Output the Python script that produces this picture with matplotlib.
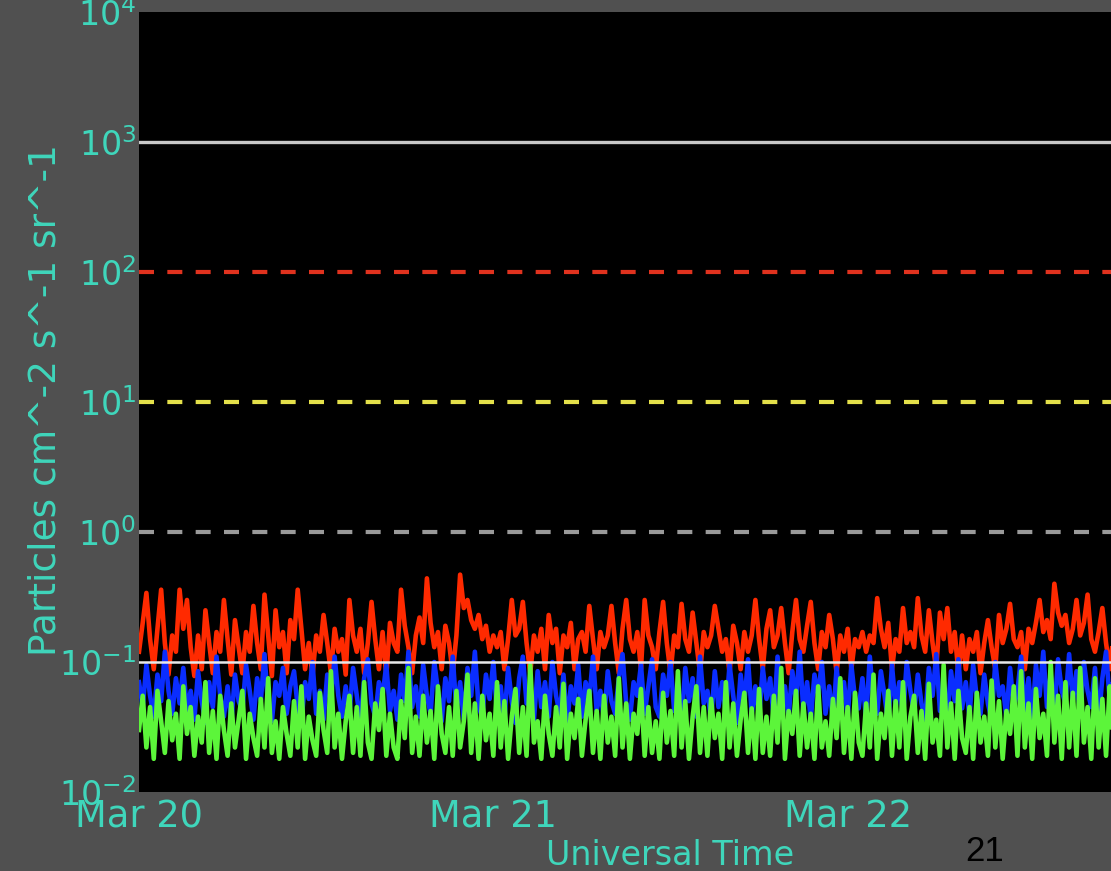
import numpy as np
import matplotlib
matplotlib.use("Agg")
import matplotlib.pyplot as plt
import matplotlib.dates as mdates
from matplotlib.ticker import LogLocator, LogFormatterMathtext, NullLocator
from datetime import datetime, timedelta

# Proton flux, 15-minute samples starting 2015-03-20 00:00 UT
# (units: 1e-3 particles cm^-2 s^-1 sr^-1)
flux_high_milli = [
    120, 200, 340, 150, 88, 180, 360, 140, 80, 160, 120, 360, 180, 300,
    130, 78, 160, 88, 250, 140, 82, 170, 120, 300, 150, 80, 210, 130,
    82, 170, 120, 270, 140, 88, 330, 160, 78, 250, 130, 170, 82, 210,
    150, 360, 180, 88, 140, 78, 160, 120, 230, 140, 82, 180, 120, 150,
    80, 300, 160, 120, 180, 82, 140, 290, 150, 88, 170, 78, 200, 140,
    120, 360, 190, 130, 82, 160, 220, 140, 440, 200, 130, 170, 88, 190,
    140, 82, 160, 470, 260, 300, 210, 180, 230, 150, 190, 120, 160, 130,
    170, 88, 150, 300, 160, 180, 290, 140, 82, 160, 120, 180, 88, 230,
    140, 180, 82, 160, 130, 200, 88, 150, 170, 120, 270, 150, 88, 170,
    130, 160, 270, 140, 82, 180, 300, 150, 120, 170, 88, 300, 160, 130,
    88, 170, 290, 140, 82, 160, 130, 280, 150, 120, 240, 140, 82, 170,
    130, 160, 270, 180, 120, 150, 82, 190, 140, 88, 170, 120, 160, 300,
    150, 88, 180, 250, 130, 160, 260, 140, 82, 170, 300, 150, 120, 190,
    290, 140, 88, 170, 130, 230, 150, 82, 160, 120, 180, 88, 150, 130,
    170, 120, 160, 140, 310, 180, 130, 200, 88, 150, 120, 260, 140, 170,
    130, 310, 160, 120, 250, 140, 88, 240, 150, 260, 120, 170, 82, 160,
    88, 150, 120, 170, 82, 140, 210, 130, 88, 230, 140, 180, 280, 150,
    130, 170, 88, 180, 140, 200, 300, 170, 210, 150, 400, 240, 190, 230,
    140, 180, 300, 160, 200, 330, 150, 120, 170, 260, 140, 88, 160, 130,
]
flux_mid_milli = [
    70, 45, 95, 55, 38, 80, 50, 120, 60, 40, 75, 48, 90, 42,
    60, 36, 85, 50, 34, 70, 45, 110, 55, 38, 65, 34, 80, 50,
    42, 95, 60, 36, 75, 50, 115, 45, 35, 70, 55, 90, 40, 65,
    85, 45, 35, 70, 52, 100, 40, 60, 36, 80, 48, 110, 55, 38,
    65, 40, 90, 55, 34, 75, 105, 48, 38, 70, 55, 95, 42, 60,
    36, 80, 50, 120, 45, 65, 38, 95, 55, 40, 100, 60, 35, 75,
    50, 110, 42, 70, 36, 90, 55, 120, 45, 38, 80, 52, 100, 40,
    65, 36, 90, 50, 34, 75, 110, 48, 60, 36, 85, 45, 70, 38,
    100, 55, 40, 80, 34, 65, 48, 95, 38, 70, 52, 110, 42, 60,
    36, 85, 50, 40, 75, 115, 48, 36, 70, 55, 95, 40, 65, 105,
    45, 38, 80, 55, 100, 42, 65, 35, 90, 50, 75, 38, 110, 48,
    60, 36, 85, 45, 70, 40, 95, 55, 34, 80, 48, 105, 40, 65,
    38, 90, 52, 75, 36, 110, 45, 65, 38, 85, 50, 120, 42, 70,
    36, 80, 55, 100, 40, 65, 35, 90, 48, 70, 38, 95, 52, 44,
    75, 36, 110, 50, 40, 85, 55, 34, 95, 45, 70, 38, 100, 60,
    40, 80, 48, 36, 90, 55, 115, 42, 65, 36, 85, 50, 105, 44,
    70, 38, 95, 52, 40, 80, 48, 36, 100, 55, 65, 38, 90, 45,
    60, 110, 42, 75, 36, 95, 55, 120, 45, 80, 40, 105, 60, 48,
    115, 50, 85, 38, 100, 60, 45, 90, 36, 75, 120, 50, 80, 42,
]
flux_low_milli = [
    30, 55, 22, 45, 18, 60, 35, 20, 50, 25, 40, 18, 65, 28,
    45, 19, 38, 24, 70, 20, 42, 18, 55, 30, 19, 48, 22, 36,
    60, 18, 40, 26, 19, 52, 22, 75, 20, 35, 18, 45, 28, 19,
    50, 22, 65, 18, 38, 25, 19, 58, 30, 20, 85, 22, 40, 18,
    35, 55, 20, 45, 19, 70, 24, 18, 48, 30, 62, 19, 40, 22,
    18, 50, 26, 90, 20, 38, 19, 55, 24, 42, 18, 65, 28, 20,
    45, 19, 60, 22, 35, 80, 20, 48, 18, 55, 25, 40, 19, 70,
    22, 50, 18, 38, 62, 20, 45, 19, 95, 24, 35, 18, 55, 28,
    19, 45, 22, 68, 18, 40, 26, 52, 19, 36, 60, 20, 42, 18,
    55, 24, 38, 19, 75, 22, 48, 18, 40, 28, 62, 19, 45, 20,
    35, 18, 58, 24, 42, 19, 85, 22, 50, 18, 38, 65, 20, 45,
    19, 52, 26, 40, 18, 70, 22, 48, 19, 36, 58, 20, 44, 18,
    62, 20, 38, 19, 55, 24, 90, 18, 42, 28, 60, 19, 48, 22,
    40, 18, 65, 22, 35, 19, 52, 26, 75, 20, 45, 18, 58, 24,
    19, 48, 22, 80, 18, 40, 26, 60, 19, 50, 22, 70, 18, 38,
    55, 20, 42, 18, 68, 24, 36, 19, 95, 22, 48, 18, 60, 26,
    20, 45, 18, 58, 24, 38, 19, 72, 22, 50, 18, 42, 28, 65,
    19, 85, 22, 48, 18, 62, 26, 40, 19, 100, 24, 55, 18, 70,
    22, 58, 19, 90, 24, 45, 18, 75, 22, 52, 19, 65, 20, 48,
]

# Alert thresholds drawn as horizontal reference lines
threshold_levels = [1e3, 1e2, 1e1, 1e0, 1e-1]

start_time = datetime(2015, 3, 20)
sample_minutes = 15
x_tick_days = [datetime(2015, 3, 20), datetime(2015, 3, 21), datetime(2015, 3, 22)]
x_end = datetime(2015, 3, 23)

times = [start_time + timedelta(minutes=sample_minutes * i) for i in range(len(flux_high_milli))]
flux_high = np.array(flux_high_milli) / 1000.0
flux_mid = np.array(flux_mid_milli) / 1000.0
flux_low = np.array(flux_low_milli) / 1000.0

label_color = "#3fd6bb"
bg_color = "#505050"

fig = plt.figure(figsize=(11.11, 8.71), dpi=100, facecolor=bg_color)
ax = fig.add_axes([139 / 1111, 79 / 871, 1063 / 1111, 780 / 871])
ax.set_facecolor("black")
for s in ax.spines.values():
    s.set_visible(False)

ax.plot(times, flux_high, color="#ff2a00", lw=3.3, zorder=3)
ax.plot(times, flux_mid, color="#0a2dff", lw=3.3, zorder=4)
ax.plot(times, flux_low, color="#5cf53a", lw=3.3, zorder=5)

dash = (3.6, 3.2)
line_styles = [
    dict(color="#c8c8c8", lw=2.4, ls="-"),
    dict(color="#e0321e", lw=3.0, dashes=dash),
    dict(color="#e4e04a", lw=3.0, dashes=dash),
    dict(color="#9a9a9a", lw=3.0, dashes=dash),
    dict(color="#e8e8e8", lw=1.8, ls="-"),
]
for level, st in zip(threshold_levels, line_styles):
    ax.axhline(level, zorder=6, **st)

ax.set_yscale("log")
ax.set_ylim(1e-2, 1e4)
ax.set_xlim(x_tick_days[0], x_end)
ax.yaxis.set_major_locator(LogLocator(base=10, numticks=10))
ax.yaxis.set_major_formatter(LogFormatterMathtext())
ax.yaxis.set_minor_locator(NullLocator())
ax.set_xticks(x_tick_days)
ax.xaxis.set_major_formatter(mdates.DateFormatter("%b %d"))

ax.tick_params(axis="both", length=0, colors=label_color)
ax.tick_params(axis="y", pad=2, labelsize=24)
ax.tick_params(axis="x", pad=5, labelsize=26.5)

ax.set_ylabel("Particles cm^-2 s^-1 sr^-1", color=label_color, fontsize=27, va="center")
ax.yaxis.set_label_coords(-94 / 1063, 392 / 780)
ax.set_xlabel("Universal Time", color=label_color, fontsize=24, va="center")
ax.xaxis.set_label_coords(0.5, -63 / 780)

fig.text(985 / 1111, 1 - 851 / 871, "21", color="black", fontsize=25,
         family="Liberation Sans", ha="center", va="center")

fig.savefig("out.png", dpi=100, facecolor=bg_color)
